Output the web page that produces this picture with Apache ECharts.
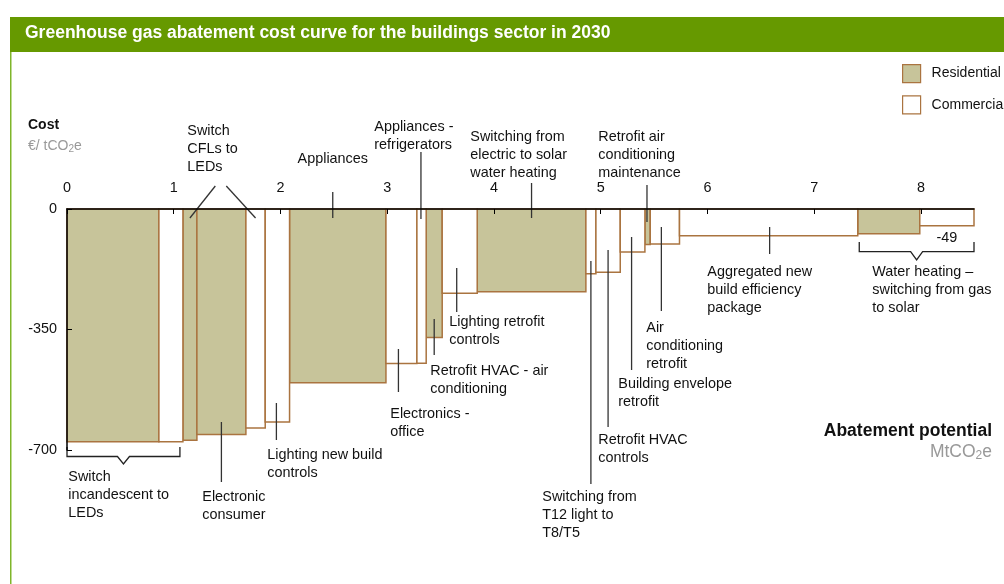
<!DOCTYPE html>
<html>
<head>
<meta charset="UTF-8">
<title>Buildings abatement cost curve 2030</title>
<script src="https://cdn.jsdelivr.net/npm/echarts@6/dist/echarts.min.js"></script>
<style>
  html, body { margin: 0; padding: 0; background: #fff; }
  #chart { width: 1004px; height: 584px; }
</style>
</head>
<body>
<div id="chart"></div>
<script>
// levers from left to right (R = residential, C = commercial)
var levers = [
  'Switch incandescent to LEDs (R)', 'Switch incandescent to LEDs (C)', 'Switch CFLs to LEDs (R)',
  'Electronic consumer', 'Switch CFLs to LEDs (C)', 'Lighting new build controls', 'Appliances',
  'Electronics - office', 'Appliances - refrigerators', 'Retrofit HVAC - air conditioning',
  'Lighting retrofit controls', 'Switching from electric to solar water heating',
  'Switching from T12 light to T8/T5', 'Retrofit HVAC controls', 'Building envelope retrofit',
  'Retrofit air conditioning maintenance', 'Air conditioning retrofit',
  'Aggregated new build efficiency package', 'Water heating - gas to solar (R)', 'Water heating - gas to solar (C)'
];
var sector = ['R', 'C', 'R', 'R', 'C', 'C', 'R', 'C', 'C', 'R', 'C', 'R', 'C', 'C', 'C', 'R', 'C', 'C', 'R', 'C'];
// abatement potential, MtCO2e (bar widths)
var potential = [0.861, 0.225, 0.131, 0.459, 0.181, 0.228, 0.903, 0.290, 0.087, 0.150,
                 0.328, 1.018, 0.094, 0.228, 0.231, 0.050, 0.274, 1.670, 0.581, 0.508];
// cost, EUR / tCO2e (bar heights)
var cost = [-676, -676, -672, -655, -636, -619, -505, -449, -448, -373,
            -245, -240, -188, -184, -125, -103, -102, -78, -72, -49];
var costTicks = [-700, -350, 0];

var starts = [];
var total = 0;
potential.forEach(function (w) { starts.push(total); total += w; });

var FONT = '"Liberation Sans", Arial, sans-serif';
var RES_FILL = '#c7c49a';
var EDGE = '#aa7440';

// callouts: bar = lever index the leader points at, px offsets from the axis origin
var notes = [
  { text: 'Switch\nincandescent to\nLEDs', brace: [0, 1], inset: [0, 3], by: [238, 247.5, 255], tx: 1.3, ty: 259 },
  { text: 'Switch\nCFLs to\nLEDs', fan: [{ bar: 2, from: [148.3, -23], toY: 9 }, { bar: 4, from: [159.3, -23], toY: 9 }], tx: 120.3, ty: -87 },
  { text: 'Appliances', bar: 6, dx: -5, y: [-17, 9], tx: 265.8, ty: -59, align: 'center' },
  { text: 'Appliances -\nrefrigerators', bar: 8, dx: -0.6, y: [-57, 10], tx: 307.3, ty: -91 },
  { text: 'Switching from\nelectric to solar\nwater heating', bar: 11, dx: 0, y: [-26, 9], tx: 403.3, ty: -81 },
  { text: 'Retrofit air\nconditioning\nmaintenance', bar: 15, dx: -0.6, y: [-24, 13], tx: 531.3, ty: -81 },
  { text: 'Electronic\nconsumer', bar: 3, dx: 0, y: [213, 273], tx: 135.3, ty: 279 },
  { text: 'Lighting new build\ncontrols', bar: 5, dx: -1, y: [194, 231], tx: 200.3, ty: 237 },
  { text: 'Electronics -\noffice', bar: 7, dx: -3, y: [140, 183], tx: 323.3, ty: 196 },
  { text: 'Retrofit HVAC - air\nconditioning', bar: 9, dx: 0, y: [110, 146], tx: 363.3, ty: 153 },
  { text: 'Lighting retrofit\ncontrols', bar: 10, dx: -3, y: [59, 103], tx: 382.3, ty: 104 },
  { text: 'Switching from\nT12 light to\nT8/T5', bar: 12, dx: 0, y: [52, 275], tx: 475.3, ty: 279 },
  { text: 'Retrofit HVAC\ncontrols', bar: 13, dx: 0, y: [41, 218], tx: 531.3, ty: 222 },
  { text: 'Building envelope\nretrofit', bar: 14, dx: -1, y: [28, 161], tx: 551.3, ty: 166 },
  { text: 'Air\nconditioning\nretrofit', bar: 16, dx: -3.5, y: [18, 102], tx: 579.3, ty: 110 },
  { text: 'Aggregated new\nbuild efficiency\npackage', bar: 17, dx: 1, y: [18, 45], tx: 640.3, ty: 54 },
  { text: 'Water heating \u2013\nswitching from gas\nto solar', brace: [18, 19], inset: [1.5, 0], by: [33, 42.7, 51], tx: 805.3, ty: 54 },
  { value: 19, ty: 20 }
];

function barMid(api, i) {
  return api.coord([starts[i] + potential[i] / 2, 0])[0];
}

function renderBar(params, api) {
  var p0 = api.coord([api.value(0), 0]);
  var p1 = api.coord([api.value(1), api.value(2)]);
  return {
    type: 'rect',
    shape: { x: p0[0], y: p0[1], width: p1[0] - p0[0], height: p1[1] - p0[1] },
    style: api.style()
  };
}

function textEl(txt, x, y, align) {
  return {
    type: 'text',
    style: {
      text: txt, x: x, y: y,
      align: align, textAlign: align, verticalAlign: 'top', textVerticalAlign: 'top',
      font: '14.4px ' + FONT, lineHeight: 18, fill: '#111'
    }
  };
}

function renderNote(params, api) {
  var n = notes[params.dataIndex];
  var o = api.coord([0, 0]);
  var lineStyle = { stroke: '#333', lineWidth: 1.3 };
  var kids = [];
  if (n.bar != null) {
    var x = barMid(api, n.bar) + n.dx;
    kids.push({ type: 'line', shape: { x1: x, y1: o[1] + n.y[0], x2: x, y2: o[1] + n.y[1] }, style: lineStyle });
  }
  if (n.fan) {
    n.fan.forEach(function (f) {
      kids.push({ type: 'line', shape: { x1: o[0] + f.from[0], y1: o[1] + f.from[1], x2: barMid(api, f.bar), y2: o[1] + f.toY }, style: lineStyle });
    });
  }
  if (n.brace) {
    var a = api.coord([starts[n.brace[0]], 0])[0] + n.inset[0];
    var last = n.brace[1];
    var b = api.coord([starts[last] + potential[last], 0])[0] - n.inset[1];
    var m = (a + b) / 2;
    var h = o[1] + n.by[0], l = o[1] + n.by[1], t = o[1] + n.by[2];
    kids.push({
      type: 'polyline',
      shape: { points: [[a, h], [a, l], [m - 6, l], [m, t], [m + 6, l], [b, l], [b, h]] },
      style: { stroke: '#222', lineWidth: 1.3, fill: null }
    });
  }
  if (n.value != null) {
    kids.push(textEl(String(cost[n.value]), barMid(api, n.value), o[1] + n.ty, 'center'));
  } else {
    kids.push(textEl(n.text, o[0] + n.tx, o[1] + n.ty, n.align || 'left'));
  }
  return { type: 'group', children: kids };
}

function barsFor(code) {
  var out = [];
  levers.forEach(function (name, i) {
    if (sector[i] === code) out.push({ name: name, value: [starts[i], starts[i] + potential[i], cost[i]] });
  });
  return out;
}

var chart = echarts.init(document.getElementById('chart'));
chart.setOption({
  animation: false,
  textStyle: { fontFamily: FONT },
  grid: { left: 67, top: 209, right: 30, bottom: 134 },
  legend: {
    orient: 'vertical', left: 902, top: 64, padding: 0, itemWidth: 18, itemHeight: 18, itemGap: 12,
    icon: 'rect', selectedMode: false,
    textStyle: { fontSize: 14, color: '#111', padding: [0, 0, 0, 6] },
    data: [
      { name: 'Residential', itemStyle: { color: RES_FILL, borderColor: EDGE, borderWidth: 1.2 } },
      { name: 'Commercial', itemStyle: { color: '#fff', borderColor: EDGE, borderWidth: 1.2 } }
    ]
  },
  xAxis: {
    type: 'value', position: 'top', min: 0, max: total, interval: 1, z: 10,
    axisLine: { lineStyle: { color: '#000', width: 1.5 } },
    axisTick: { inside: true, length: 5, lineStyle: { color: '#000' } },
    axisLabel: { fontSize: 14.4, color: '#111', margin: 14, showMaxLabel: false },
    splitLine: { show: false }
  },
  yAxis: {
    type: 'value', min: costTicks[0], max: costTicks[costTicks.length - 1], interval: 350, z: 10,
    axisLine: { show: true, lineStyle: { color: '#000', width: 1.5 } },
    axisTick: { show: true, inside: true, length: 5, lineStyle: { color: '#000' } },
    axisLabel: { fontSize: 14.4, color: '#111', margin: 10 },
    splitLine: { show: false }
  },
  series: [
    {
      name: 'Residential', type: 'custom', renderItem: renderBar,
      itemStyle: { color: RES_FILL, borderColor: EDGE, borderWidth: 1.5 },
      encode: { x: [0, 1], y: 2 }, data: barsFor('R')
    },
    {
      name: 'Commercial', type: 'custom', renderItem: renderBar,
      itemStyle: { color: '#fff', borderColor: EDGE, borderWidth: 1.5 },
      encode: { x: [0, 1], y: 2 }, data: barsFor('C')
    },
    {
      name: 'notes', type: 'custom', renderItem: renderNote, silent: true, z: 5,
      data: notes.map(function (n, i) { return [0, 0, i]; })
    }
  ],
  graphic: [
    { type: 'rect', left: 10, top: 17, shape: { width: 1000, height: 35 }, style: { fill: '#669900' } },
    { type: 'rect', left: 10, top: 52, shape: { width: 1.5, height: 540 }, style: { fill: '#7fb52a' } },
    { type: 'text', left: 25, top: 24, style: { text: 'Greenhouse gas abatement cost curve for the buildings sector in 2030', fill: '#fff', font: 'bold 17.5px ' + FONT } },
    { type: 'text', left: 28, top: 118, style: { text: 'Cost', fill: '#111', font: 'bold 14px ' + FONT } },
    {
      type: 'text', left: 28, top: 139,
      style: {
        text: '{a|\u20ac/ tCO}{s|2}{a|e}',
        rich: { a: { fontSize: 14, fontFamily: FONT, fill: '#999', lineHeight: 16 }, s: { fontSize: 10, fontFamily: FONT, fill: '#999', lineHeight: 6, verticalAlign: 'bottom' } }
      }
    },
    { type: 'text', right: 12, top: 422, style: { text: 'Abatement potential', fill: '#111', font: 'bold 17.5px ' + FONT } },
    {
      type: 'text', right: 12, top: 443,
      style: {
        text: '{a|MtCO}{s|2}{a|e}',
        rich: { a: { fontSize: 17.5, fontFamily: FONT, fill: '#999', lineHeight: 19 }, s: { fontSize: 12, fontFamily: FONT, fill: '#999', lineHeight: 6, verticalAlign: 'bottom' } }
      }
    }
  ]
});
</script>
</body>
</html>
